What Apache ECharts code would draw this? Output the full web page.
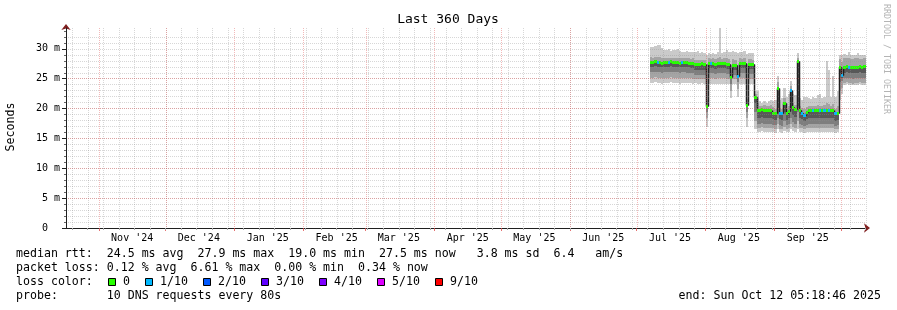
<!DOCTYPE html>
<html><head><meta charset="utf-8">
<script src="https://cdn.jsdelivr.net/npm/echarts@6/dist/echarts.min.js"></script>
<style>html,body{margin:0;padding:0;background:#fff}#c{width:897px;height:310px}</style>
</head><body><div id="c"></div>
<script>
// ---- time frame ----
const END_TS = Date.UTC(2025, 9, 12, 5, 18, 46);
const DAY = 86400000;
const START_TS = END_TS - 360 * DAY;
const FIRST_DAY = Date.UTC(2025, 6, 7);   // first day with data
const Y_MAX = 33.5;

// ---- daily values (ms), Jul 7 .. Oct 11 2025 ----
const medianRtt = [
  27.8,27.8,27.9,27.8,27.8,27.7,27.8,27.8,27.8,27.9,27.8,27.8,27.8,27.7,27.8,27.8,27.8,27.7,27.7,27.7,27.5,27.5,27.5,27.6,27.5,
  20.5,
  27.6,27.6,27.6,27.5,27.6,27.6,27.6,27.6,27.5,27.5,
  25.3,27.3,27.3,25.5,27.6,27.6,27.6,20.6,27.5,27.5,27.5,
  22.0,19.8,19.8,19.9,19.8,19.8,19.8,19.8,
  19.3,19.2,23.5,19.3,19.2,20.9,19.2,19.6,23.1,20.3,19.9,27.9,
  19.7,19.3,19.0,19.4,19.8,19.8,19.7,19.8,19.8,19.7,19.8,19.8,19.7,19.8,19.8,19.7,19.2,19.3,
  26.9,25.7,27.0,27.1,27.0,27.0,26.9,27.0,27.0,27.1,27.0,27.2
];
const lossTenths = [
  0,0,0,1,0,0,0,0,1,0,0,0,0,0,1,0,0,0,0,0,0,0,0,0,0,
  0,
  0,1,0,0,0,0,0,0,0,0,
  0,0,0,1,0,0,0,0,0,0,0,
  0,0,0,0,0,0,0,0,
  0,0,0,1,1,0,0,0,1,0,0,0,
  0,1,1,0,0,0,1,0,0,1,0,1,0,1,0,0,1,0,
  0,1,0,0,1,0,0,0,0,0,0,0
];
const pingMax = [
  30.3,30.3,30.5,30.7,30.6,30.2,29.8,29.8,29.9,29.7,29.8,29.8,29.9,29.6,29.5,29.5,29.6,29.5,29.5,29.5,29.4,29.6,29.3,29.4,29.3,
  29.0,
  29.3,29.2,29.3,29.2,29.4,33.5,29.3,29.5,29.8,29.4,
  29.5,29.6,29.4,29.3,29.5,29.4,29.6,29.2,29.3,29.3,29.3,
  23.0,23.0,21.2,21.0,21.3,21.0,21.2,21.5,
  21.3,21.5,25.5,21.5,21.8,23.5,22.0,22.5,24.6,22.5,22.3,29.3,
  21.8,21.5,22.0,22.0,21.7,21.6,22.0,21.8,22.2,22.5,21.8,22.0,28.0,26.5,22.0,25.5,22.0,23.0,
  29.0,29.0,29.2,29.0,29.5,29.0,28.9,29.0,29.3,29.0,28.9,29.0
];
const ping9 = [
  28.6,28.5,28.6,28.7,28.6,28.5,28.5,28.4,28.5,28.5,28.4,28.5,28.5,28.4,28.5,28.4,28.4,28.4,28.3,28.4,28.2,28.2,28.1,28.2,28.1,
  21.5,
  28.4,28.3,28.4,28.3,28.4,28.6,28.3,28.4,28.5,28.3,
  26.5,28.3,28.2,26.5,28.4,28.3,28.4,21.6,28.3,28.3,28.2,
  22.5,21.0,20.5,20.5,20.6,20.5,20.5,20.6,
  20.2,20.0,24.5,20.1,20.0,21.8,20.0,20.4,23.8,21.0,20.6,28.5,
  20.4,20.1,20.0,20.3,20.5,20.5,20.4,20.5,20.6,20.5,20.5,20.6,21.0,20.8,20.5,20.7,20.0,20.4,
  28.3,27.8,28.4,28.4,28.5,28.3,28.3,28.4,28.5,28.3,28.3,28.4
];
const ping4 = [
  27.0,27.0,27.1,27.0,27.0,26.9,27.0,27.0,27.0,27.1,27.0,27.0,27.0,26.9,27.0,27.0,26.9,26.9,26.8,26.8,26.5,26.4,26.4,26.5,26.4,
  20.1,
  26.8,26.8,26.8,26.7,26.8,26.8,26.8,26.8,26.7,26.7,
  24.9,26.5,26.5,25.1,26.8,26.8,26.8,20.2,26.7,26.7,26.7,
  21.0,18.5,18.5,18.6,18.5,18.4,18.5,18.5,
  18.2,18.1,20.0,18.2,18.1,19.5,18.1,18.5,20.0,19.0,18.6,20.5,
  18.5,18.2,18.0,18.3,18.5,18.5,18.4,18.5,18.5,18.4,18.5,18.5,18.4,18.5,18.5,18.4,18.0,18.1,
  25.8,25.2,26.0,26.1,26.0,26.0,25.9,26.0,26.0,26.1,26.0,26.0
];
const ping3 = [
  26.1,26.1,26.2,26.1,26.1,26.0,26.1,26.1,26.1,26.2,26.1,26.1,26.1,26.0,26.1,26.1,26.0,26.0,26.0,25.9,25.7,25.6,25.6,25.7,25.6,
  19.5,
  25.9,25.9,25.9,25.8,25.9,25.9,25.9,25.9,25.8,25.8,
  24.2,25.7,25.7,24.4,25.9,25.9,25.9,19.5,25.8,25.8,25.8,
  19.5,17.5,17.5,17.6,17.5,17.4,17.5,17.5,
  17.3,17.2,18.5,17.2,17.1,18.0,17.2,17.5,18.5,17.8,17.5,19.5,
  17.5,17.3,17.1,17.3,17.5,17.5,17.4,17.5,17.5,17.4,17.5,17.5,17.4,17.5,17.5,17.4,17.1,17.2,
  24.5,24.6,25.1,25.2,25.1,25.1,25.0,25.1,25.1,25.2,25.1,25.1
];
const ping2 = [
  25.2,25.2,25.3,25.2,25.2,25.1,25.2,25.2,25.2,25.3,25.2,25.2,25.2,25.1,25.2,25.2,25.1,25.1,25.1,25.0,25.0,24.9,24.9,25.0,24.9,
  18.5,
  25.1,25.1,25.1,25.0,25.1,25.1,25.1,25.1,25.0,25.0,
  23.0,24.9,24.9,23.2,25.1,25.1,25.1,18.5,25.0,25.0,25.0,
  18.0,16.8,16.8,16.9,16.8,16.7,16.8,16.8,
  16.7,16.6,17.5,16.6,16.5,17.0,16.6,16.8,17.5,17.0,16.8,18.0,
  16.8,16.7,16.5,16.7,16.8,16.8,16.7,16.8,16.8,16.7,16.8,16.8,16.7,16.8,16.8,16.7,16.5,16.6,
  23.0,23.5,24.3,24.4,24.3,24.3,24.2,24.3,24.3,24.4,24.3,24.3
];
const pingMin = [
  24.3,24.3,24.4,24.3,24.3,24.2,24.3,24.3,24.3,24.4,24.3,24.3,24.3,24.2,24.3,24.3,24.3,24.3,24.3,24.2,24.3,24.2,24.2,24.3,24.2,
  17.0,
  24.2,24.2,24.2,24.1,24.2,24.2,24.2,24.2,24.1,24.1,
  21.8,24.1,24.1,22.0,24.2,24.2,24.2,17.0,24.2,24.2,24.2,
  16.5,16.1,16.1,16.2,16.1,16.0,16.1,16.1,
  16.0,15.9,16.5,16.0,15.9,16.2,16.0,16.1,16.5,16.2,16.1,16.5,
  16.1,16.0,15.9,16.0,16.1,16.1,16.0,16.1,16.1,16.0,16.1,16.1,16.0,16.1,16.1,16.0,15.9,16.0,
  21.5,22.5,24.0,24.1,24.0,24.0,23.9,24.0,24.0,24.1,24.0,24.0
];

// ---- text ----
const MONTHS = ['Jan','Feb','Mar','Apr','May','Jun','Jul','Aug','Sep','Oct','Nov','Dec'];
const titleText = 'Last 360 Days';
const yTitle = 'Seconds';
const yLabelValues = [0, 5, 10, 15, 20, 25, 30];
const statLine1 = 'median rtt:  24.5 ms avg  27.9 ms max  19.0 ms min  27.5 ms now   3.8 ms sd  6.4   am/s';
const statLine2 = 'packet loss: 0.12 % avg  6.61 % max  0.00 % min  0.34 % now';
const lossTitle = 'loss color:';
const lossLabels = ['0', '1/10', '2/10', '3/10', '4/10', '5/10', '9/10'];
const lossColors = ['#26ff00', '#00b8ff', '#0059ff', '#5e00ff', '#7e00ff', '#dd00ff', '#ff0000'];
const probeLine = 'probe:       10 DNS requests every 80s';
const endLine = 'end: Sun Oct 12 05:18:46 2025';
const sideText = 'RRDTOOL / TOBI OETIKER';

// ---- calendar ticks ----
const monthStarts = [], monthMids = [], weekStarts = [];
for (let y = 2024; y <= 2025; y++) for (let m = 0; m < 12; m++) {
  const s = Date.UTC(y, m, 1), mid = Date.UTC(y, m, 16);
  if (s > START_TS && s < END_TS) monthStarts.push(s);
  if (mid > START_TS && mid < END_TS) monthMids.push(mid);
}
{
  let t = Date.UTC(new Date(START_TS).getUTCFullYear(), new Date(START_TS).getUTCMonth(), new Date(START_TS).getUTCDate() + 1);
  while (new Date(t).getUTCDay() !== 0) t += DAY;
  for (; t < END_TS; t += 7 * DAY) weekStarts.push(t);
}
const yMinorTicks = []; for (let v = 0; v <= 33; v++) yMinorTicks.push(v);

const dayStart = medianRtt.map((v, k) => FIRST_DAY + k * DAY);
const MONO = '"DejaVu Sans Mono", monospace';
const GRID_MINOR = 'rgba(143,143,143,0.36)';
const GRID_MAJOR = 'rgba(222,79,79,0.40)';

function band(lo, hi, color, z) {
  return {
    type: 'custom', z, silent: true, clip: true, animation: false,
    xAxisIndex: 0, yAxisIndex: 0,
    encode: { x: [0, 1], y: [2, 3] },
    data: lo.map((v, k) => [dayStart[k], dayStart[k] + DAY, v, hi[k]]),
    renderItem(params, api) {
      const a = api.coord([api.value(0), api.value(3)]);
      const b = api.coord([api.value(1), api.value(2)]);
      const x0 = Math.round(a[0]), x1 = Math.round(b[0]);
      const y0 = Math.round(a[1]), y1 = Math.round(b[1]);
      return { type: 'rect', shape: { x: x0, y: y0, width: x1 - x0, height: Math.max(1, y1 - y0) }, style: { fill: color } };
    }
  };
}
function vgrid(values, color, z) {
  return {
    type: 'custom', z, silent: true, animation: false, xAxisIndex: 0, yAxisIndex: 0,
    data: values.map(t => [t, 0]),
    renderItem(params, api) {
      const p = api.coord([api.value(0), 0]);
      const cs = params.coordSys;
      const x = Math.round(p[0]) + 0.5;
      return { type: 'line', shape: { x1: x, y1: cs.y, x2: x, y2: cs.y + cs.height },
        style: { stroke: color, lineWidth: 1, lineDash: [1, 1] } };
    }
  };
}

const medianSeries = {
  type: 'custom', z: 4, silent: true, animation: false, xAxisIndex: 0, yAxisIndex: 0,
  data: medianRtt.map((v, k) => [dayStart[k], dayStart[k] + DAY, v, k > 0 ? medianRtt[k - 1] : v]),
  renderItem(params, api) {
    const a = api.coord([api.value(0), api.value(2)]);
    const b = api.coord([api.value(1), api.value(2)]);
    const pv = api.coord([api.value(0), api.value(3)]);
    const x0 = Math.round(a[0]) + 0.5, x1 = Math.round(b[0]) + 0.5;
    const y = Math.round(a[1]) + 0.5, yp = Math.round(pv[1]) + 0.5;
    return { type: 'group', children: [
      { type: 'line', shape: { x1: x0, y1: yp, x2: x0, y2: y }, style: { stroke: '#202020', lineWidth: 1.5 } },
      { type: 'line', shape: { x1: x0, y1: y, x2: x1, y2: y }, style: { stroke: '#202020', lineWidth: 1 } }
    ] };
  }
};
const lossSeries = {
  type: 'custom', z: 5, silent: true, animation: false, xAxisIndex: 0, yAxisIndex: 0,
  data: medianRtt.map((v, k) => [dayStart[k], dayStart[k] + DAY, v, lossTenths[k]]),
  renderItem(params, api) {
    const a = api.coord([api.value(0), api.value(2)]);
    const b = api.coord([api.value(1), api.value(2)]);
    const x0 = Math.round(a[0]), x1 = Math.round(b[0]);
    const y = Math.round(a[1]);
    const l = api.value(3);
    const idx = l <= 0 ? 0 : l <= 4 ? l : l <= 8 ? 5 : 6;
    return { type: 'rect', shape: { x: x0, y: y - 1, width: x1 - x0, height: 3 }, style: { fill: lossColors[idx] } };
  }
};

const fmtMonth = v => { const d = new Date(v); return MONTHS[d.getUTCMonth()] + " '" + String(d.getUTCFullYear()).slice(2); };

const graphics = [
  { type: 'text', x: 448, y: 20, style: { text: titleText, font: '13px ' + MONO, fill: '#000', textAlign: 'center', textVerticalAlign: 'middle' } },
  { type: 'text', x: 11, y: 127, rotation: Math.PI / 2, style: { text: yTitle, font: '11.6px ' + MONO, fill: '#000', textAlign: 'center', textVerticalAlign: 'middle' } },
  { type: 'text', x: 886, y: 4, rotation: -Math.PI / 2, style: { text: sideText, font: '8.3px ' + MONO, fill: '#b4b4b4', textAlign: 'left', textVerticalAlign: 'middle' } },
  { type: 'text', x: 16, y: 254, style: { text: statLine1, font: '11.6px ' + MONO, fill: '#000', textAlign: 'left', textVerticalAlign: 'middle' } },
  { type: 'text', x: 16, y: 268, style: { text: statLine2, font: '11.6px ' + MONO, fill: '#000', textAlign: 'left', textVerticalAlign: 'middle' } },
  { type: 'text', x: 16, y: 281.5, style: { text: lossTitle, font: '11.6px ' + MONO, fill: '#000', textAlign: 'left', textVerticalAlign: 'middle' } },
  { type: 'text', x: 16, y: 295.5, style: { text: probeLine, font: '11.6px ' + MONO, fill: '#000', textAlign: 'left', textVerticalAlign: 'middle' } },
  { type: 'text', x: 881, y: 295.5, style: { text: endLine, font: '11.6px ' + MONO, fill: '#000', textAlign: 'right', textVerticalAlign: 'middle' } }
];
const boxX = [108.5, 145.5, 203.5, 261.5, 319.5, 377.5, 435.5];
lossLabels.forEach((lab, i) => {
  graphics.push({ type: 'rect', shape: { x: boxX[i], y: 278.5, width: 7, height: 7 }, style: { fill: lossColors[i], stroke: '#000', lineWidth: 1 } });
  graphics.push({ type: 'text', x: boxX[i] + 14.5, y: 281.5, style: { text: lab, font: '11.6px ' + MONO, fill: '#000', textAlign: 'left', textVerticalAlign: 'middle' } });
});

const chart = echarts.init(document.getElementById('c'), null, { renderer: 'canvas' });
chart.setOption({
  animation: false,
  backgroundColor: '#ffffff',
  grid: { left: 66, top: 28, width: 800, height: 200 },
  xAxis: [
    { type: 'value', position: 'bottom', min: START_TS, max: END_TS, z: 10,
      axisLine: { show: true, onZero: false, lineStyle: { color: '#1f1f1f', width: 1 } },
      axisTick: { show: true, customValues: monthStarts, length: 3, lineStyle: { color: 'rgba(222,79,79,0.8)' } },
      axisLabel: { show: true, customValues: monthMids, formatter: fmtMonth, fontFamily: MONO, fontSize: 10, color: '#000', margin: 5 },
      splitLine: { show: false } },
    { type: 'value', position: 'bottom', min: START_TS, max: END_TS, z: 10,
      axisLine: { show: false },
      axisTick: { show: true, customValues: weekStarts, length: 2, lineStyle: { color: '#a8a8a8' } },
      axisLabel: { show: false }, splitLine: { show: false } },
    { type: 'value', position: 'bottom', min: START_TS, max: END_TS, z: 9,
      axisLine: { show: true, onZero: false, symbol: ['none', 'arrow'], symbolSize: [7, 6], symbolOffset: [0, 4], lineStyle: { color: '#801f1f' } },
      axisTick: { show: false }, axisLabel: { show: false }, splitLine: { show: false } }
  ],
  yAxis: [
    { type: 'value', position: 'left', min: 0, max: Y_MAX, interval: 1, z: 10,
      axisLine: { show: false },
      axisTick: { show: true, customValues: yMinorTicks, length: 2, lineStyle: { color: '#666' } },
      axisLabel: { show: false },
      splitLine: { show: true, showMinLine: false, showMaxLine: false, lineStyle: { color: GRID_MINOR, width: 1, type: [1, 1] } } },
    { type: 'value', position: 'left', min: 0, max: Y_MAX, interval: 5, z: 11,
      axisLine: { show: true, onZero: false, lineStyle: { color: '#1f1f1f', width: 1 } },
      axisTick: { show: true, customValues: yLabelValues, length: 4, lineStyle: { color: '#1f1f1f' } },
      axisLabel: { show: true, customValues: yLabelValues, fontFamily: MONO, fontSize: 10, color: '#000', margin: 6,
        formatter: v => (Math.abs(v % 5) < 1e-9 ? (v === 0 ? '0  ' : v + ' m') : '') },
      splitLine: { show: true, showMinLine: false, showMaxLine: false, lineStyle: { color: GRID_MAJOR, width: 1, type: [1, 1] } } },
    { type: 'value', position: 'left', min: 0, max: Y_MAX, z: 9,
      axisLine: { show: true, onZero: false, symbol: ['none', 'arrow'], symbolSize: [7, 6], symbolOffset: [0, 4], lineStyle: { color: '#801f1f' } },
      axisTick: { show: false }, axisLabel: { show: false }, splitLine: { show: false } }
  ],
  series: [
    band(pingMin, pingMax, '#cacaca', 2),
    band(ping2, ping9, '#a4a4a4', 2),
    band(ping3, medianRtt, '#7e7e7e', 2),
    band(ping4, medianRtt, '#585858', 2),
    medianSeries,
    lossSeries,
    vgrid(weekStarts, GRID_MINOR, 6),
    vgrid(monthStarts, GRID_MAJOR, 7)
  ],
  graphic: { elements: graphics }
});
</script>
</body></html>
